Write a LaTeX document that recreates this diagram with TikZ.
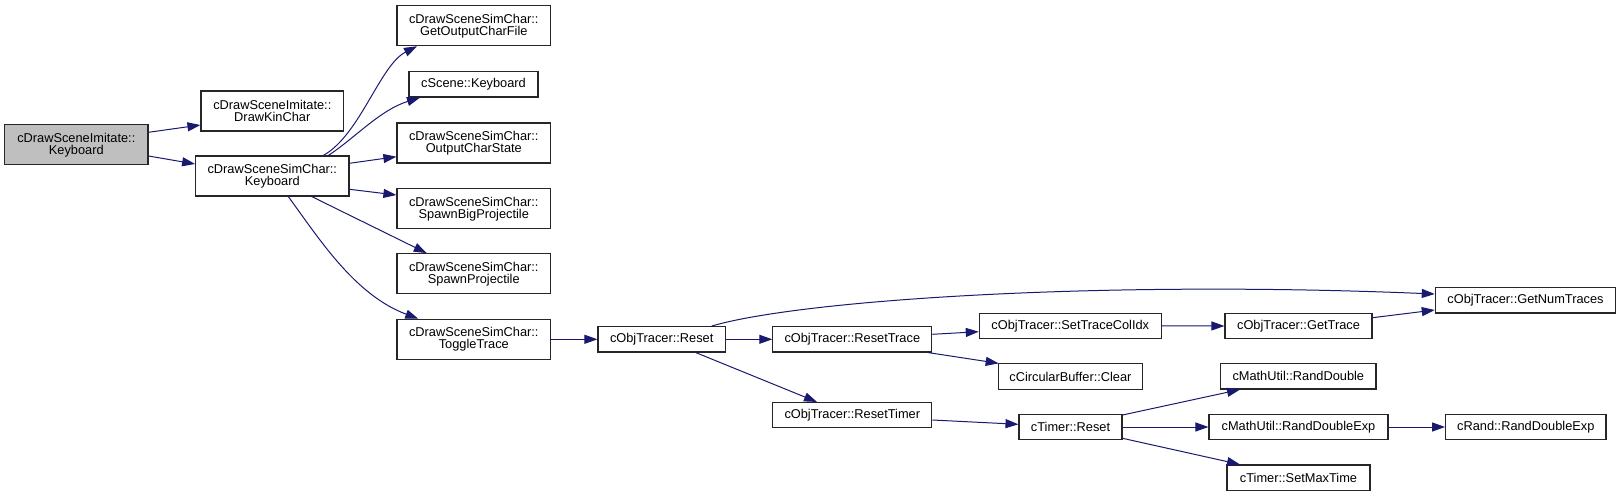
\documentclass[tikz,border=0pt]{standalone}
\usepackage{fontspec}
\setmainfont{Liberation Sans}
\usetikzlibrary{arrows.meta,calc}
\definecolor{edgeblue}{HTML}{191970}
\definecolor{rootgray}{HTML}{BFBFBF}
\begin{document}
\begin{tikzpicture}[x=1pt,y=-1pt,
  box/.style={draw=black!85,line width=1.1pt,fill=white,inner sep=0pt,align=center,
    font=\fontsize{12.8}{12}\selectfont},
  two/.style={box,minimum height=40pt},
  one/.style={box,minimum height=25.4pt},
  call/.style={draw=edgeblue,line width=1pt,-{Triangle[length=13pt,width=9pt]}}]
\useasboundingbox (0,0) rectangle (1621,497);
% nodes
\node[two,fill=rootgray,minimum width=143.4pt] (root) at (76.3,144.7) {cDrawSceneImitate::\\Keyboard};
\node[two,minimum width=142.6pt] (dkc) at (272.3,111) {cDrawSceneImitate::\\DrawKinChar};
\node[two,minimum width=153.3pt] (sck) at (272.3,176) {cDrawSceneSimChar::\\Keyboard};
\node[two,minimum width=153.7pt] (gocf) at (473.8,25.7) {cDrawSceneSimChar::\\GetOutputCharFile};
\node[one,minimum width=129pt,minimum height=25.7pt] (sk) at (473.5,84.2) {cScene::Keyboard};
\node[two,minimum width=153.7pt] (ocs) at (473.8,143) {cDrawSceneSimChar::\\OutputCharState};
\node[two,minimum width=153.7pt] (sbp) at (473.8,208.7) {cDrawSceneSimChar::\\SpawnBigProjectile};
\node[two,minimum width=153.7pt] (sp) at (473.8,273.7) {cDrawSceneSimChar::\\SpawnProjectile};
\node[two,minimum width=153.7pt] (tt) at (473.8,339.3) {cDrawSceneSimChar::\\ToggleTrace};
\node[one,minimum width=127.4pt] (otr) at (661.7,339.3) {cObjTracer::Reset};
\node[one,minimum width=158.9pt] (rtr) at (852.3,339.3) {cObjTracer::ResetTrace};
\node[one,minimum width=158.9pt] (rtm) at (852.3,415.2) {cObjTracer::ResetTimer};
\node[one,minimum width=182pt] (stci) at (1070.3,325.8) {cObjTracer::SetTraceColIdx};
\node[one,minimum width=144.4pt] (cbc) at (1070.4,376.6) {cCircularBuffer::Clear};
\node[one,minimum width=180.4pt] (gnt) at (1525.5,300.3) {cObjTracer::GetNumTraces};
\node[one,minimum width=147pt] (gt) at (1298.5,326) {cObjTracer::GetTrace};
\node[one,minimum width=103pt] (tr) at (1070.5,427) {cTimer::Reset};
\node[one,minimum width=155.3pt] (rd) at (1298.3,376.3) {cMathUtil::RandDouble};
\node[one,minimum width=179pt] (rde) at (1298.5,427) {cMathUtil::RandDoubleExp};
\node[one,minimum width=160.3pt] (rrde) at (1525.8,427) {cRand::RandDoubleExp};
\node[one,minimum width=143pt] (smt) at (1298.5,477.7) {cTimer::SetMaxTime};
% edges
\draw[call] ($(root.east)+(0,-12.4)$) -- ($(dkc.west)+(0,14)$);
\draw[call] ($(root.east)+(0,11.3)$) -- ($(sck.west)+(0,-12)$);
\draw[call] ($(sck.north)+(51,0)$) .. controls (360,135) and (380,65) .. ($(gocf.south)+(-56.8,0)$);
\draw[call] ($(sck.north)+(56,0)$) .. controls (355,138) and (380,110) .. ($(sk.south)+(-53.5,0)$);
\draw[call] ($(sck.east)+(0,-12.7)$) -- ($(ocs.west)+(0,13.7)$);
\draw[call] ($(sck.east)+(0,13.3)$) -- ($(sbp.west)+(0,-13.7)$);
\draw[call] ($(sck.south)+(39.4,0)$) -- ($(sp.north)+(-47.1,0)$);
\draw[call] ($(sck.south)+(16,0)$) .. controls (320,240) and (355,295) .. ($(tt.north)+(-55.5,0)$);
\draw[call] (tt.east) -- (otr.west);
\draw[call] ($(otr.north)+(50,0)$) .. controls (800,300) and (1100,280) .. ($(gnt.west)+(0,-6.3)$);
\draw[call] (otr.east) -- (rtr.west);
\draw[call] ($(otr.south)+(34,0)$) -- ($(rtm.north)+(-35.3,0)$);
\draw[call] ($(rtr.east)+(0,-5)$) -- ($(stci.west)+(0,5.9)$);
\draw[call] ($(rtr.south)+(75.6,0)$) -- ($(cbc.north west)+(1,0)$);
\draw[call] (stci.east) -- (gt.west);
\draw[call] ($(gt.east)+(0,-8.3)$) -- ($(gnt.west)+(0,9.7)$);
\draw[call] ($(rtm.east)+(0,4.8)$) -- ($(tr.west)+(0,-2.7)$);
\draw[call] ($(tr.east)+(0,-12)$) -- ($(rd.south)+(-58.3,0)$);
\draw[call] (tr.east) -- (rde.west);
\draw[call] ($(tr.east)+(0,11.3)$) -- ($(smt.north)+(-58.5,0)$);
\draw[call] (rde.east) -- (rrde.west);
\end{tikzpicture}
\end{document}
